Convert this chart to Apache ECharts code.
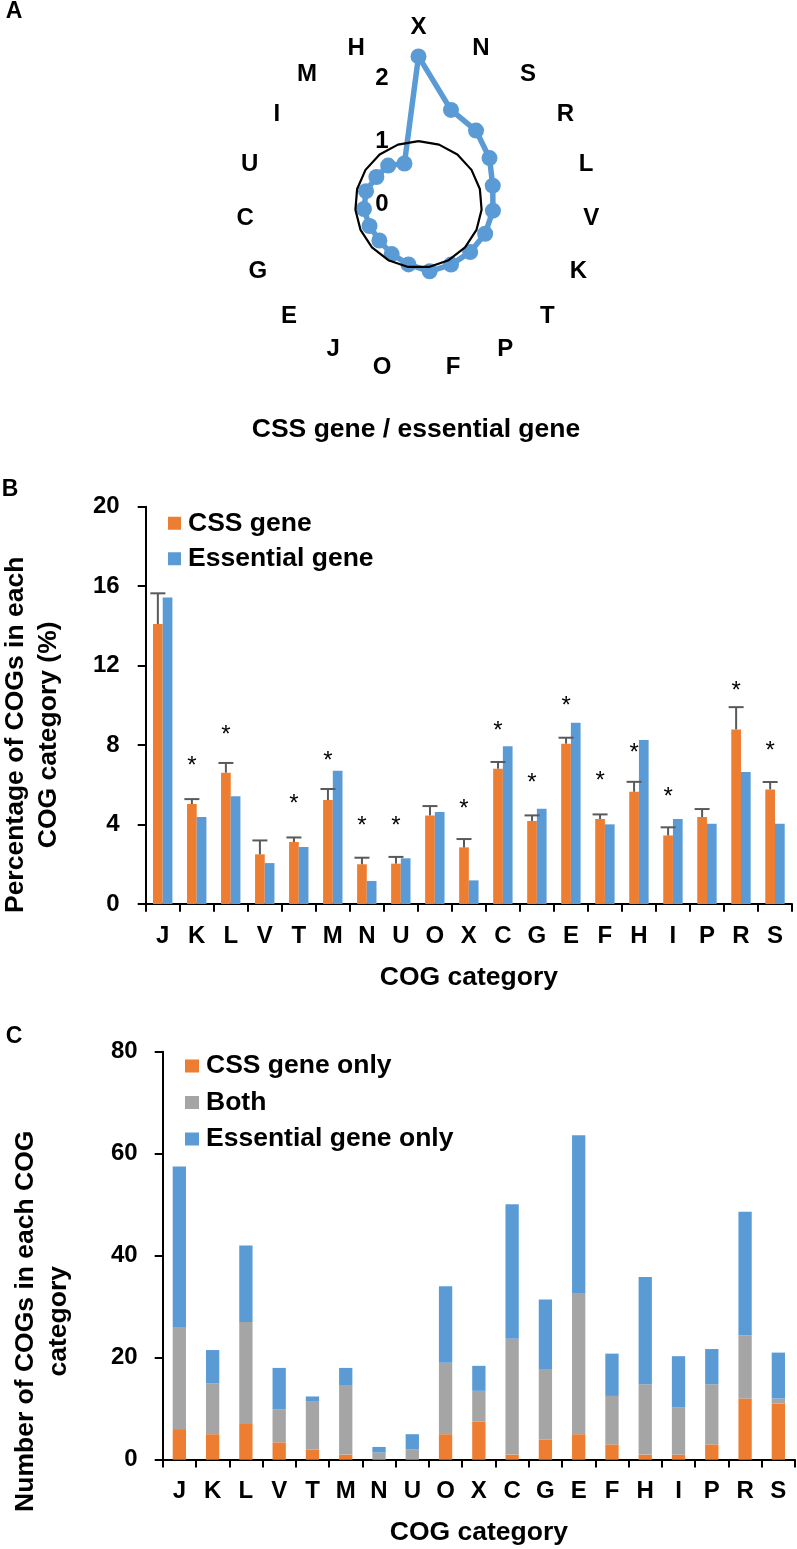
<!DOCTYPE html>
<html>
<head>
<meta charset="utf-8">
<script src="https://cdn.jsdelivr.net/npm/echarts@6/dist/echarts.min.js"></script>
<style>
html,body{margin:0;padding:0;background:#fff}
#chart{width:797px;height:1549px}
</style>
</head>
<body>
<div id="chart"></div>
<script>
// ---------- Panel A: ratio CSS gene / essential gene (clockwise from top) ----------
const radarCats   = ['X','N','S','R','L','V','K','T','P','F','O','J','E','G','C','U','I','M','H'];
const radarRatios = [2.34,1.58,1.48,1.34,1.21,1.18,1.15,1.11,1.08,1.07,0.96,0.89,0.84,0.845,0.865,0.855,0.795,0.78,0.685];
const radarRef    = [1,1,1,1,1,1,1,1,1,1,1,1,1,1,1,1,1,1,1];

// ---------- Panel B: percentage of COGs in each category ----------
const cogCats   = ['J','K','L','V','T','M','N','U','O','X','C','G','E','F','H','I','P','R','S'];
const cssPct    = [14.09,5.03,6.61,2.50,3.12,5.23,2.00,2.03,4.46,2.85,6.81,4.18,8.07,4.28,5.65,3.45,4.38,8.79,5.77];
const cssErrTop = [15.64,5.28,7.10,3.20,3.35,5.79,2.33,2.37,4.93,3.27,7.15,4.46,8.37,4.51,6.15,3.86,4.78,9.91,6.14];
const essPct    = [15.43,4.38,5.42,2.06,2.87,6.71,1.16,2.30,4.63,1.19,7.94,4.80,9.12,4.01,8.25,4.28,4.04,6.64,4.04];
const starLevel = [null,7.16,8.76,null,5.28,7.41,4.18,4.18,null,5.03,8.96,6.34,10.22,6.44,7.85,5.64,null,10.94,7.95];
const yTicksB   = [0,4,8,12,16,20];

// ---------- Panel C: number of COGs in each category ----------
const cssOnly = [6,5,7,3.4,2,1,0,0,5,7.5,1,3.9,5,3,1,1,3,12,11];
const both    = [20,10,20,6.5,9.5,13.5,1.4,2,14,6,22.7,13.9,27.7,9.5,13.8,9.3,11.8,12.4,1];
const essOnly = [31.5,6.5,15,8.1,0.9,3.5,1.1,3,15,4.9,26.4,13.6,30.9,8.3,21,10,6.9,24.2,9];
const yTicksC = [0,20,40,60,80];

const FONT = '"Liberation Sans", Arial, sans-serif';
const ORANGE = '#ED7D31', BLUE = '#5B9BD5', GRAY = '#A5A5A5', ERR = '#595959';

// ECharts radar goes counter-clockwise; reorder so the picture reads clockwise
const ccw = radarCats.map((_, i) => (radarCats.length - i) % radarCats.length);
const indicators = ccw.map((k, j) => {
  const o = { name: radarCats[k], min: 0, max: 2.5 };
  if (j === 0) o.axisLabel = { show: true };
  return o;
});

const chart = echarts.init(document.getElementById('chart'), null, { renderer: 'canvas' });

const axisTextB = { color: '#000', fontSize: 24, fontWeight: 'bold', fontFamily: FONT };
const titleText = { color: '#000', fontSize: 26.5, fontWeight: 'bold', fontFamily: FONT };
const BAR_B = 9.7;

const option = {
  animation: false,
  backgroundColor: '#fff',
  textStyle: { fontFamily: FONT },
  graphic: [
    { type: 'text', x: 14, y: 12, style: { text: 'A', font: 'bold 23px ' + FONT, fill: '#000', align: 'center', verticalAlign: 'middle' } },
    { type: 'text', x: 10, y: 490, style: { text: 'B', font: 'bold 23px ' + FONT, fill: '#000', align: 'center', verticalAlign: 'middle' } },
    { type: 'text', x: 14, y: 1037, style: { text: 'C', font: 'bold 23px ' + FONT, fill: '#000', align: 'center', verticalAlign: 'middle' } },
    { type: 'text', x: 416, y: 430, style: { text: 'CSS gene / essential gene', font: 'bold 26.5px ' + FONT, fill: '#000', align: 'center', verticalAlign: 'middle' } }
  ],
  radar: {
    center: [418.5, 204.5],
    radius: 158.25,
    startAngle: 90,
    splitNumber: 5,
    indicator: indicators,
    nameGap: 7,
    axisName: { color: '#000', fontSize: 24, fontWeight: 'bold', fontFamily: FONT },
    axisLine: { show: false },
    axisTick: { show: false },
    splitLine: { show: false },
    splitArea: { show: false },
    axisLabel: {
      show: false, margin: 30, color: '#000', fontSize: 24, fontWeight: 'bold', fontFamily: FONT,
      formatter: v => (Math.abs(v - Math.round(v)) < 1e-9 ? String(Math.round(v)) : '')
    }
  },
  legend: [
    {
      data: ['CSS gene', 'Essential gene'],
      orient: 'vertical', left: 163, top: 504.75,
      itemWidth: 13, itemHeight: 13, itemGap: 8.5, icon: 'rect',
      textStyle: { color: '#000', fontSize: 26.5, fontWeight: 'bold', fontFamily: FONT, padding: [0, 0, 0, 2] }
    },
    {
      data: ['CSS gene only', 'Both', 'Essential gene only'],
      orient: 'vertical', left: 180, top: 1047.5,
      itemWidth: 14, itemHeight: 13, itemGap: 9.5, icon: 'rect',
      textStyle: { color: '#000', fontSize: 26.5, fontWeight: 'bold', fontFamily: FONT, padding: [0, 0, 0, 2] }
    }
  ],
  grid: [
    { left: 145.7, top: 506.7, width: 646.3, height: 397.3, outerBoundsMode: 'none' },
    { left: 162.7, top: 1051.7, width: 632.3, height: 408, outerBoundsMode: 'none' }
  ],
  xAxis: [
    {
      gridIndex: 0, type: 'category', data: cogCats,
      axisLine: { show: true, lineStyle: { color: '#000', width: 2 } },
      axisTick: { show: true, length: 7.7, lineStyle: { color: '#000', width: 2 } },
      axisLabel: Object.assign({ interval: 0, margin: 20 }, axisTextB),
      name: 'COG category', nameLocation: 'middle', nameGap: 60.5, nameTextStyle: titleText
    },
    {
      gridIndex: 1, type: 'category', data: cogCats,
      axisLine: { show: true, lineStyle: { color: '#000', width: 2 } },
      axisTick: { show: true, length: 7.7, lineStyle: { color: '#000', width: 2 } },
      axisLabel: Object.assign({ interval: 0, margin: 20 }, axisTextB),
      name: 'COG category', nameLocation: 'middle', nameGap: 59, nameTextStyle: titleText
    }
  ],
  yAxis: [
    {
      gridIndex: 0, type: 'value', min: yTicksB[0], max: yTicksB[yTicksB.length - 1], interval: yTicksB[1] - yTicksB[0],
      axisLine: { show: true, lineStyle: { color: '#000', width: 2 } },
      axisTick: { show: true, length: 8, lineStyle: { color: '#000', width: 2 } },
      splitLine: { show: false },
      axisLabel: Object.assign({ margin: 26 }, axisTextB),
      name: 'Percentage of COGs in each\nCOG category (%)', nameLocation: 'middle', nameGap: 81,
      nameTextStyle: Object.assign({ lineHeight: 33, padding: [0, 59, 0, 0] }, titleText)
    },
    {
      gridIndex: 1, type: 'value', min: yTicksC[0], max: yTicksC[yTicksC.length - 1], interval: yTicksC[1] - yTicksC[0],
      axisLine: { show: true, lineStyle: { color: '#000', width: 2 } },
      axisTick: { show: true, length: 8, lineStyle: { color: '#000', width: 2 } },
      splitLine: { show: false },
      axisLabel: Object.assign({ margin: 25 }, axisTextB),
      name: 'Number of COGs in each COG\ncategory', nameLocation: 'middle', nameGap: 88,
      nameTextStyle: Object.assign({ lineHeight: 33, padding: [0, 131, 0, 0] }, titleText)
    }
  ],
  series: [
    {
      type: 'radar', radarIndex: 0, z: 2,
      symbol: 'circle', symbolSize: 16,
      lineStyle: { color: BLUE, width: 5.5 },
      itemStyle: { color: BLUE },
      data: [{ value: ccw.map(k => radarRatios[k]), name: 'ratio' }]
    },
    {
      type: 'radar', radarIndex: 0, z: 3,
      symbol: 'none',
      lineStyle: { color: '#000', width: 2.2 },
      data: [{ value: ccw.map(k => radarRef[k]), name: 'reference' }]
    },
    {
      name: 'CSS gene', type: 'bar', xAxisIndex: 0, yAxisIndex: 0,
      barWidth: BAR_B, barGap: '0%', itemStyle: { color: ORANGE }, data: cssPct
    },
    {
      name: 'Essential gene', type: 'bar', xAxisIndex: 0, yAxisIndex: 0,
      barWidth: BAR_B, barGap: '0%', itemStyle: { color: BLUE }, data: essPct
    },
    {
      type: 'custom', xAxisIndex: 0, yAxisIndex: 0, z: 4,
      data: cssPct.map((v, i) => [i, v, cssErrTop[i]]),
      renderItem: function (params, api) {
        const lo = api.coord([api.value(0), api.value(1)]);
        const hi = api.coord([api.value(0), api.value(2)]);
        const x = lo[0] - BAR_B / 2;
        return {
          type: 'group',
          children: [
            { type: 'line', shape: { x1: x, y1: lo[1], x2: x, y2: hi[1] }, style: { stroke: ERR, lineWidth: 2 } },
            { type: 'line', shape: { x1: x - 7.5, y1: hi[1], x2: x + 7.5, y2: hi[1] }, style: { stroke: ERR, lineWidth: 2 } }
          ]
        };
      }
    },
    {
      type: 'custom', xAxisIndex: 0, yAxisIndex: 0, z: 4,
      data: starLevel.map((v, i) => [i, v]).filter(d => d[1] != null),
      renderItem: function (params, api) {
        const p = api.coord([api.value(0), api.value(1)]);
        return {
          type: 'text', x: p[0] - BAR_B / 2, y: p[1] + 5,
          style: { text: '*', fill: '#000', font: '24px ' + FONT, align: 'center', verticalAlign: 'middle' }
        };
      }
    },
    {
      name: 'CSS gene only', type: 'bar', stack: 'c', xAxisIndex: 1, yAxisIndex: 1,
      barWidth: 13.3, itemStyle: { color: ORANGE }, data: cssOnly
    },
    {
      name: 'Both', type: 'bar', stack: 'c', xAxisIndex: 1, yAxisIndex: 1,
      barWidth: 13.3, itemStyle: { color: GRAY }, data: both
    },
    {
      name: 'Essential gene only', type: 'bar', stack: 'c', xAxisIndex: 1, yAxisIndex: 1,
      barWidth: 13.3, itemStyle: { color: BLUE }, data: essOnly
    }
  ]
};

chart.setOption(option);
</script>
</body>
</html>
